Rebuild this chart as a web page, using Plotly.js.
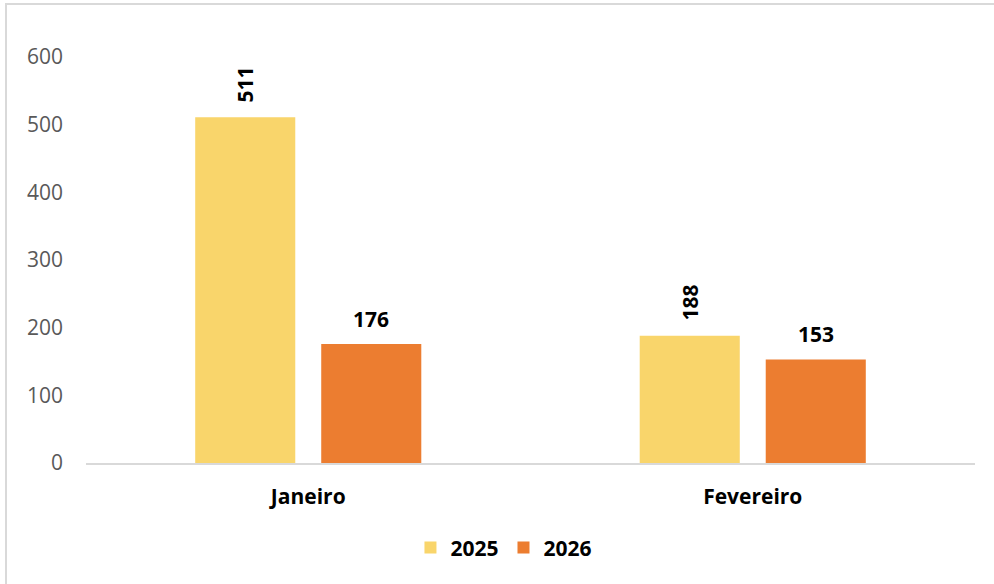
<!DOCTYPE html>
<html>
<head>
<meta charset="utf-8">
<script src="https://cdn.plot.ly/plotly-3.0.1.min.js"></script>
<style>
  html, body { margin: 0; padding: 0; background: #fff; }
  #wrap { position: relative; width: 994px; height: 584px; }
  #chart { width: 994px; height: 584px; }
  #frame { position: absolute; left: 5px; top: 3px; right: 0; bottom: 0;
           border-top: 2px solid #d9d9d9; border-left: 2px solid #d9d9d9; pointer-events: none; }
</style>
</head>
<body>
<div id="wrap"><div id="chart"></div><div id="frame"></div></div>
<script>
const categories = ["Janeiro", "Fevereiro"];
const values2025 = [511, 188];
const values2026 = [176, 153];
const yTicks = [0, 100, 200, 300, 400, 500, 600];

const font = "Open Sans, 'Noto Sans', sans-serif";
const labelFont = { family: font, size: 21, color: "#000", weight: "bold" };

const traces = [
  {
    type: "bar", name: "2025", x: categories, y: values2025,
    marker: { color: "#f9d56b" }, hoverinfo: "none"
  },
  {
    type: "bar", name: "2026", x: categories, y: values2026,
    marker: { color: "#ec7d30" }, hoverinfo: "none"
  }
];

const annotations = [];
categories.forEach((c, i) => {
  annotations.push({
    x: c, y: values2025[i], xref: "x", yref: "y", text: String(values2025[i]),
    showarrow: false, textangle: -90, xanchor: "center", yanchor: "middle",
    xshift: -63, yshift: 33, font: labelFont
  });
  annotations.push({
    x: c, y: values2026[i], xref: "x", yref: "y", text: String(values2026[i]),
    showarrow: false, textangle: 0, xanchor: "center", yanchor: "middle",
    xshift: 63, yshift: 25, font: labelFont
  });
});

const layout = {
  width: 994, height: 584,
  margin: { l: 86, r: 19, t: 57, b: 121 },
  paper_bgcolor: "#fff", plot_bgcolor: "#fff",
  barmode: "group", bargap: 0.433, bargroupgap: 0.206,
  font: { family: font },
  annotations: annotations,
  xaxis: {
    type: "category", showgrid: false, zeroline: false,
    showline: true, linecolor: "#d9d9d9", linewidth: 2,
    ticks: "", tickfont: labelFont,
    ticklabelstandoff: 14
  },
  yaxis: {
    range: [0, 600], tickvals: yTicks, ticktext: yTicks.map(String),
    showgrid: false, zeroline: false, showline: false, ticks: "",
    tickfont: { family: font, size: 21, color: "#595959" },
    ticklabelstandoff: 22
  },
  showlegend: true,
  legend: {
    orientation: "h", x: 0.507, xref: "container", xanchor: "center",
    y: 0.062, yref: "container", yanchor: "middle",
    font: labelFont, itemwidth: 30, traceorder: "normal"
  }
};

Plotly.newPlot("chart", traces, layout, { displayModeBar: false, staticPlot: true });
</script>
</body>
</html>
